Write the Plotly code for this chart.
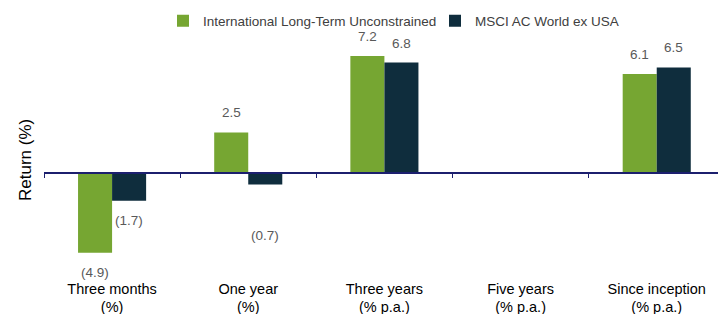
import plotly.graph_objects as go

categories = ["Three months<br>(%)", "One year<br>(%)", "Three years<br>(% p.a.)",
              "Five years<br>(% p.a.)", "Since inception<br>(% p.a.)"]
series_names = ["International Long-Term Unconstrained", "MSCI AC World ex USA"]
fund_values = [-4.9, 2.5, 7.2, None, 6.1]
index_values = [-1.7, -0.7, 6.8, None, 6.5]

colors = ["#76A632", "#0F2D3D"]
axis_color = "#1C1F6E"
label_color = "#595959"
FONT = "Liberation Sans, Arial, sans-serif"

y_min, y_max = -6.46, 8.31

W, H = 718, 314
ML, MB = 44, 36
plot_h = H - MB            # paper spans 0..278 px from top
y_top_px = 38              # top of value axis in px

fig = go.Figure()
for name, vals, col in zip(series_names, [fund_values, index_values], colors):
    fig.add_trace(go.Bar(x=categories, y=vals, name=name, marker=dict(color=col, line=dict(width=0)),
                         hoverinfo="skip"))

# invisible helper trace for the axis drawn at zero
fig.add_trace(go.Scatter(x=categories, y=[None] * len(categories), xaxis="x2", mode="none",
                         showlegend=False, hoverinfo="skip"))

# value labels
extra_shift = {(1, 1): -32}
for si, vals in enumerate([fund_values, index_values]):
    xs = -17 if si == 0 else 17
    for ci, v in enumerate(vals):
        if v is None:
            continue
        txt = f"{v:.1f}" if v >= 0 else f"({abs(v):.1f})"
        fig.add_annotation(x=categories[ci], y=v, text=txt, showarrow=False,
                           xshift=xs, yshift=(10 if v >= 0 else -10) + extra_shift.get((si, ci), 0),
                           yanchor="bottom" if v >= 0 else "top",
                           font=dict(family=FONT, size=13.5, color=label_color))

def py(px_from_top):
    return (plot_h - px_from_top) / plot_h

fig.add_annotation(x=(25 - ML) / (W - ML), y=py(160), xref="paper", yref="paper", text="Return (%)",
                   textangle=-90, showarrow=False, xanchor="center", yanchor="middle",
                   font=dict(family=FONT, size=17, color="#000000"))

y_dom_top = (plot_h - y_top_px) / plot_h
zero_pos = y_dom_top * (0 - y_min) / (y_max - y_min)

fig.update_layout(
    width=W, height=H,
    margin=dict(l=ML, r=0, t=0, b=MB, autoexpand=False),
    paper_bgcolor="white", plot_bgcolor="white",
    barmode="group", bargap=0.5, bargroupgap=0,
    font=dict(family=FONT, color="#000000"),
    showlegend=True,
    legend=dict(orientation="h", x=(163 - ML) / (W - ML), xanchor="left", y=py(21), yanchor="middle",
                font=dict(family=FONT, size=13.5, color="#404040"),
                entrywidth=227, entrywidthmode="pixels",
                itemclick=False, traceorder="normal", bgcolor="rgba(0,0,0,0)"),
    xaxis=dict(type="category", range=[-0.5, 4.45], showline=False, ticks="", automargin=False,
               showgrid=False, zeroline=False, tickfont=dict(family=FONT, size=14.5, color="#000000")),
    xaxis2=dict(type="category", matches="x", overlaying="x", anchor="free", position=zero_pos,
                showline=True, linecolor=axis_color, linewidth=2, ticks="outside",
                tickson="boundaries", ticklen=4, tickcolor=axis_color, tickwidth=1,
                showticklabels=False, showgrid=False, zeroline=False),
    yaxis=dict(range=[y_min, y_max], domain=[0, y_dom_top], showgrid=False, zeroline=False,
               showticklabels=False, ticks="", showline=False, automargin=False),
)

fig.write_html("out.html", config={"displayModeBar": False, "staticPlot": True},
               post_script="document.body.style.margin='0';document.body.style.overflow='hidden';")
